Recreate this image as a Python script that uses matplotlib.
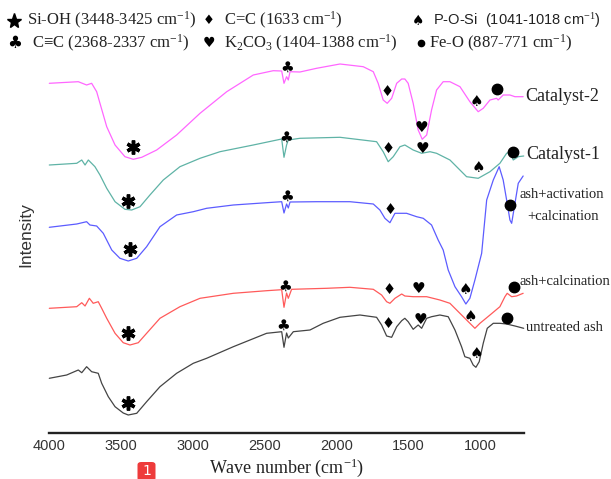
import matplotlib
matplotlib.use('Agg')
import matplotlib.pyplot as plt
from matplotlib.lines import Line2D
from matplotlib.patches import FancyBboxPatch

plt.rcParams['mathtext.fontset'] = 'custom'
plt.rcParams['mathtext.rm'] = 'Liberation Serif'
plt.rcParams['mathtext.it'] = 'Liberation Serif:italic'
plt.rcParams['mathtext.bf'] = 'Liberation Serif:bold'

# ---------------- data (wavenumber in cm-1, intensity in arbitrary units, offset per sample) ----------------
wn_cat2 = [4000, 3798, 3740, 3705, 3670, 3647, 3600, 3542, 3473, 3415, 3356, 3252, 3113, 2950, 2764, 2579,
           2440, 2381, 2365, 2347, 2335, 2323, 2254, 2138, 1975, 1813, 1743, 1709, 1674, 1646, 1615, 1580,
           1545, 1523, 1500, 1465, 1430, 1402, 1371, 1337, 1302, 1256, 1209, 1139, 1070, 1012, 977, 930,
           884, 873, 838, 791, 756, 699]
int_cat2 = [349.7, 351.3, 348, 349.7, 341.3, 329.7, 306.3, 288, 276.3, 273.7, 275.7, 283, 298, 319.7, 341.3, 358,
            362.3, 362, 349.7, 356.3, 353, 361.3, 361, 364.7, 369, 366.3, 361.3, 349.7, 333, 329.7, 334.7, 349.7,
            354, 354, 349.7, 329.7, 303, 293.7, 298, 323, 343, 351.3, 351.3, 346.3, 331.3, 321.3, 324.7, 333,
            334.7, 333, 338, 338, 336.3, 336.3]

wn_cat1 = [4000, 3809, 3774, 3751, 3728, 3682, 3647, 3600, 3542, 3473, 3426, 3368, 3299, 3206, 3090, 2950,
           2811, 2579, 2381, 2365, 2347, 2335, 2254, 1975, 1720, 1674, 1639, 1604, 1557, 1523, 1465, 1406,
           1348, 1302, 1209, 1093, 1012, 930, 861, 814, 791, 768, 733, 695]
int_cat1 = [268, 269.7, 273, 268, 273, 266.3, 258, 244.7, 231.3, 223.7, 223, 226.3, 238, 253, 266.3, 274.7,
            281.3, 288, 294, 275.7, 288, 293, 294.7, 295.7, 291.3, 281.3, 271.3, 276.3, 286.3, 288, 283, 279.7,
            281.3, 279.7, 273, 256.3, 254.7, 261.3, 269.7, 279.7, 281.3, 273, 276.3, 277]

wn_act = [4000, 3809, 3740, 3717, 3670, 3624, 3565, 3508, 3450, 3391, 3322, 3229, 3113, 2997, 2904, 2718,
          2486, 2381, 2365, 2347, 2335, 2323, 2138, 1906, 1743, 1697, 1662, 1627, 1592, 1511, 1441, 1395,
          1337, 1291, 1256, 1221, 1174, 1128, 1098, 1070, 1035, 988, 953, 907, 866, 838, 814, 791,
          779, 756, 733, 699]
int_act = [205.7, 209, 211.3, 208, 207, 199.7, 183, 174.7, 172, 174.7, 186.3, 206.3, 218, 221.3, 224.7, 228,
           230.3, 231.3, 220, 229, 225, 231, 231.3, 231.3, 229, 223, 214.7, 210.3, 219.7, 219.7, 216.3, 214.7,
           208, 193, 183, 163, 146.3, 136.3, 129, 134.7, 153, 179.7, 233, 253, 266.3, 253, 233, 213,
           209.7, 229.7, 249.7, 257]

wn_calc = [4000, 3809, 3774, 3751, 3721, 3694, 3659, 3635, 3600, 3542, 3485, 3438, 3380, 3322, 3229, 3090,
           2950, 2718, 2486, 2381, 2365, 2347, 2335, 2312, 2068, 1906, 1743, 1685, 1650, 1627, 1592, 1545,
           1523, 1465, 1371, 1279, 1209, 1116, 1058, 1035, 1000, 930, 861, 826, 810, 779, 745, 699]
int_calc = [124.7, 126.3, 130.3, 127, 134.7, 129.7, 131.3, 124.7, 114.7, 99.7, 90.3, 88, 90.3, 99.7, 114.7, 126.3,
            134.7, 139.7, 142.3, 143.3, 125.7, 140, 134.7, 143.7, 144.7, 145.7, 143.7, 138, 131.3, 129.7, 134.7, 139,
            137, 136.3, 136.3, 133, 129.7, 116.3, 108, 104.7, 109.7, 118, 126.3, 136.3, 139.7, 136.3, 137, 139.7]

wn_raw = [4000, 3879, 3798, 3774, 3740, 3705, 3659, 3635, 3589, 3542, 3485, 3450, 3391, 3322, 3229, 3113,
          2997, 2904, 2718, 2486, 2381, 2365, 2347, 2335, 2300, 2184, 2092, 1975, 1836, 1720, 1685, 1650,
          1615, 1580, 1545, 1523, 1500, 1465, 1430, 1406, 1371, 1337, 1279, 1221, 1174, 1128, 1105, 1070,
          1047, 1028, 1005, 977, 949, 907, 861, 814, 756, 695]
int_raw = [54.7, 58, 63, 60.3, 66.3, 61.3, 59.7, 49.7, 36.3, 26.3, 20, 18, 19.7, 31.3, 46.3, 59.7,
           69.7, 74.7, 86.3, 99.7, 101.3, 85.7, 100, 95, 101.3, 103, 109.7, 115.7, 118, 115.7, 108, 97,
           95.7, 106.3, 112.3, 114.7, 111.3, 103.7, 108, 104.7, 114.7, 116.3, 118, 116.3, 103, 86.3, 76.3, 74.7,
           68, 65.7, 71.3, 89.7, 104.7, 109.7, 109.7, 109, 107, 104.7]

sample_names = ['Catalyst-2', 'Catalyst-1', 'ash+activation\n+calcination', 'ash+calcination', 'untreated ash']
line_colors = ['#ff66ff', '#5fb3a6', '#5c5cff', '#ff5a5a', '#444444']

# band marker positions per sample: (wavenumber, intensity)
star_pos = [(3415, 285.7), (3454, 232), (3438, 183.7), (3452, 99.7), (3454, 29.7)]
club_pos = [(2342, 365.7), (2347, 295.7), (2342, 237), (2358, 146.3), (2370, 108)]
diamond_pos = [(1646, 341.3), (1643, 284.7), (1627, 223), (1632, 143), (1643, 109)]
heart_pos = [(1406, 306), (1404, 284.7), (1430, 144.7), (1412, 113.3)]
spade_pos = [(1021, 331.3), (1012, 265.7), (1098, 143.7), (1063, 116.3), (1023, 79.7)]
dot_pos = [(879, 343.7), (768, 281.3), (791, 228), (763, 145.7), (814, 114.7)]

band_labels = ['Si-OH (3448-3425 cm$^{-1}$)', 'C\u2261C (2368-2337 cm$^{-1}$)',
               'C=C (1633 cm$^{-1}$)', 'K$_2$CO$_3$ (1404-1388 cm$^{-1}$)',
               'P-O-Si  (1041-1018 cm$^{-1}$)', 'Fe-O (887-771 cm$^{-1}$)']

xticks = [4000, 3500, 3000, 2500, 2000, 1500, 1000]
xtick_labels = ['4000', '3500', '3000', '2500', '2000', '1500', '1000']

# ---------------- figure ----------------
W, H = 611, 479
fig = plt.figure(figsize=(W / 100, H / 100), dpi=100)
ax = fig.add_axes([49.3 / W, 46 / H, 474.7 / W, 423 / H])
ax.set_xlim(4000, 693)
ax.set_ylim(0, 423)

curves = [(wn_cat2, int_cat2), (wn_cat1, int_cat1), (wn_act, int_act), (wn_calc, int_calc), (wn_raw, int_raw)]
for (wn, it), c in zip(curves, line_colors):
    ax.plot(wn, it, color=c, lw=0.9, clip_on=False, zorder=2,
            solid_joinstyle='round', solid_capstyle='round')

for sp in ['top', 'left', 'right']:
    ax.spines[sp].set_visible(False)
ax.spines['bottom'].set_linewidth(1.7)
ax.spines['bottom'].set_color('#222222')
ax.set_yticks([])
ax.set_xticks(xticks)
ax.set_xticklabels(xtick_labels, family='Liberation Sans', fontsize=10.5, color='#333333')
ax.tick_params(axis='x', length=0, pad=4)

ax.set_xlabel('Wave number (cm$^{-1}$)', family='Liberation Serif', fontsize=13, color='#222222')
ax.xaxis.set_label_coords(0.5, -0.083)
ax.xaxis.label.set_va('center')
ax.set_ylabel('Intensity', family='Liberation Sans', fontsize=12.5, color='#333333')
ax.yaxis.set_label_coords(-0.05, 0.47)
ax.yaxis.label.set_va('center')

# band symbols on curves
sym_kw = dict(ha='center', va='center', family='DejaVu Sans', color='black', zorder=3, clip_on=False)
for x, y in star_pos:
    ax.plot([x], [y], marker=(6, 2, 0), ms=10, mew=2.5, color='black', zorder=3, clip_on=False)
for x, y in club_pos:
    ax.text(x, y, '\u2663', fontsize=11, **sym_kw)
for x, y in diamond_pos:
    ax.text(x, y, '\u2666', fontsize=10.5, **sym_kw)
for x, y in heart_pos:
    ax.text(x, y, '\u2665', fontsize=11, **sym_kw)
for x, y in spade_pos:
    ax.text(x, y, '\u2660', fontsize=11, **sym_kw)
for x, y in dot_pos:
    ax.plot([x], [y], marker='o', ms=7.5, color='black', zorder=3, clip_on=False)

# sample labels
lab_kw = dict(family='Liberation Serif', color='#222222', va='center', clip_on=False)
ax.text(687, 336.3, sample_names[0], fontsize=13, ha='left', **lab_kw)
ax.text(675, 278.7, sample_names[1], fontsize=13, ha='left', **lab_kw)
act1, act2 = sample_names[2].split('\n')
ax.text(722, 238, act1, fontsize=10.5, ha='left', **lab_kw)
ax.text(668, 216.3, act2, fontsize=10.5, ha='left', **lab_kw)
ax.text(726, 151.3, sample_names[3], fontsize=10.5, ha='left', **lab_kw)
ax.text(680, 105.7, sample_names[4], fontsize=10.5, ha='left', **lab_kw)

# band legend at top (figure pixel positions)
def fx(px):
    return px / W

def fy(py):
    return 1 - py / H

r1, r2 = 20.7, 43.3
fig.add_artist(Line2D([fx(14)], [fy(r1)], marker='*', ms=11, color='black', transform=fig.transFigure))
fig.text(fx(27.3), fy(r1), band_labels[0], family='Liberation Serif', fontsize=12, va='center', color='#222222')
fig.text(fx(15), fy(r2), '\u2663', family='DejaVu Sans', fontsize=12, ha='center', va='center')
fig.text(fx(31.7), fy(r2), band_labels[1], family='Liberation Serif', fontsize=12, va='center', color='#222222')
fig.text(fx(209), fy(r1), '\u2666', family='DejaVu Sans', fontsize=9.5, ha='center', va='center')
fig.text(fx(224), fy(r1), band_labels[2], family='Liberation Serif', fontsize=12, va='center', color='#222222')
fig.text(fx(209), fy(r2), '\u2665', family='DejaVu Sans', fontsize=10, ha='center', va='center')
fig.text(fx(224), fy(r2), band_labels[3], family='Liberation Serif', fontsize=12, va='center', color='#222222')
fig.text(fx(418), fy(r1), '\u2660', family='DejaVu Sans', fontsize=10, ha='center', va='center')
fig.text(fx(433), fy(r1), band_labels[4], family='Liberation Sans', fontsize=10.5, va='center', color='#222222')
fig.add_artist(Line2D([fx(421)], [fy(r2)], marker='o', ms=4.5, color='black', transform=fig.transFigure))
fig.text(fx(429), fy(r2), band_labels[5], family='Liberation Serif', fontsize=12, va='center', color='#222222')

# small red badge at bottom
badge = FancyBboxPatch((fx(137.5), fy(481)), 18 / W, 19 / H, boxstyle='round,pad=0,rounding_size=0.006',
                       transform=fig.transFigure, facecolor='#ee3b3b', edgecolor='none')
fig.add_artist(badge)
fig.text(fx(146.7), fy(471), '1', color='white', fontsize=10, ha='center', va='center', family='DejaVu Sans')

fig.savefig('out.png', dpi=100)
